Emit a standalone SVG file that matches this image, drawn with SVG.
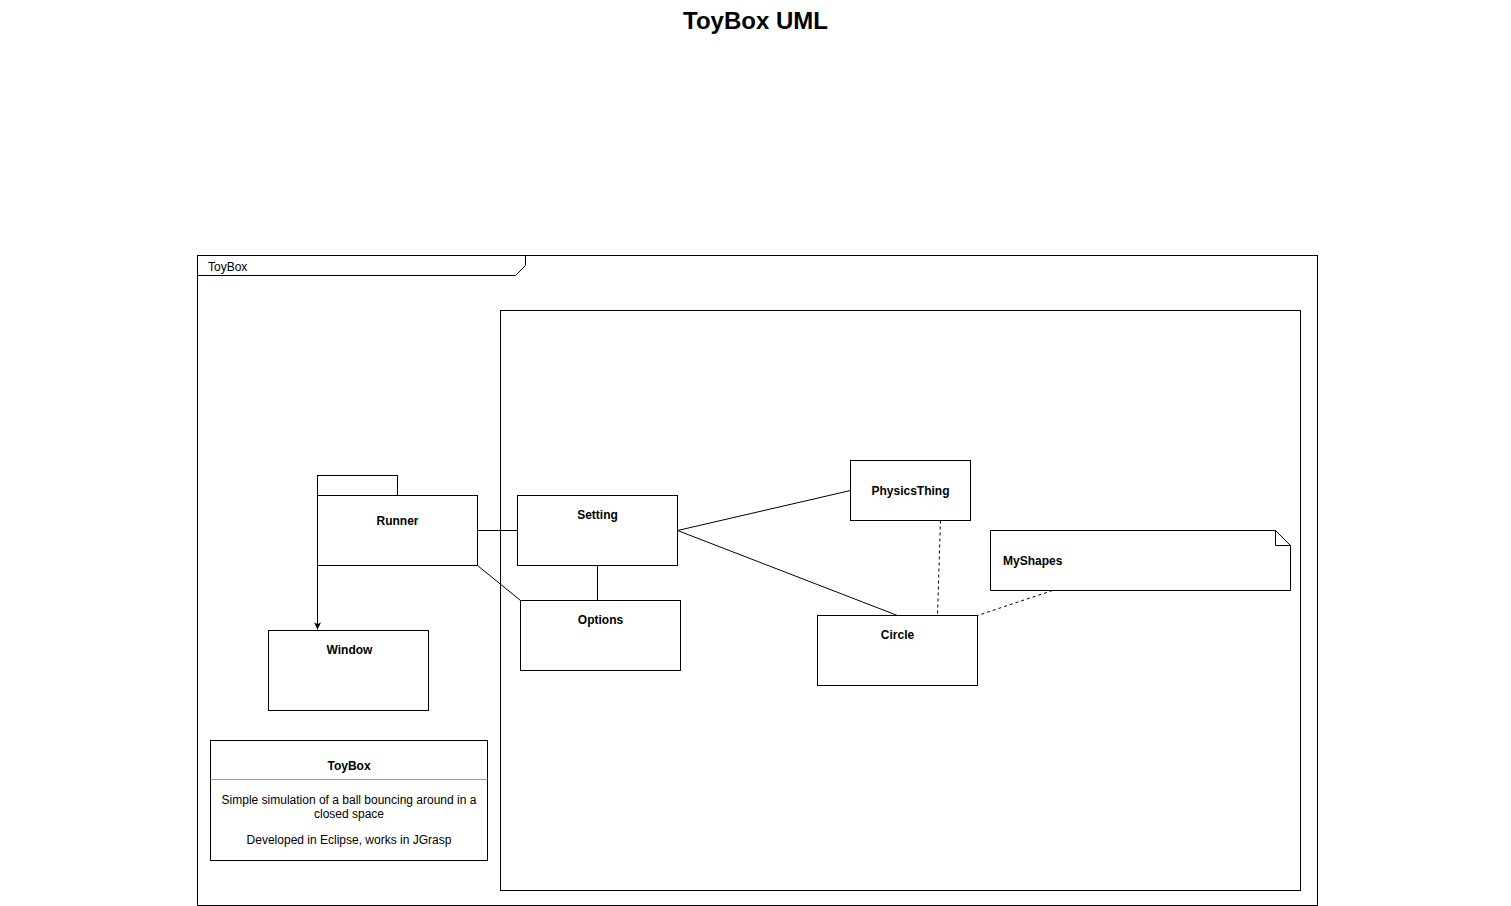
<svg xmlns="http://www.w3.org/2000/svg" width="1511" height="906" viewBox="0 0 1511 906">
<style>
.b{fill:#fff;stroke:#000;stroke-width:1}
.f{fill:none;stroke:#000;stroke-width:1}
.t{font-family:"Liberation Sans",Arial,sans-serif;font-size:12px;fill:#000}
.bt{font-family:"Liberation Sans",Arial,sans-serif;font-size:12px;font-weight:bold;fill:#000;text-anchor:middle}
.c{fill:none;stroke:#000;stroke-width:1}
.d{fill:none;stroke:#000;stroke-width:1;stroke-dasharray:3 3}
</style>
<defs>
<marker id="arr" markerWidth="10" markerHeight="10" refX="8" refY="4" orient="auto" markerUnits="userSpaceOnUse">
<path d="M1,0.5 L8,4 L1,7.5 L2.5,4 Z" fill="#000"/>
</marker>
</defs>
<rect width="1511" height="906" fill="#fff"/>
<text x="755.5" y="29" style="font-family:'Liberation Sans',Arial,sans-serif;font-size:24px;font-weight:bold;text-anchor:middle">ToyBox UML</text>
<g id="frame-toybox">
<rect x="197.5" y="255.5" width="1120" height="650" class="f"/>
<path d="M197.5,275.5 H515.5 L525.5,265.5 V255.5" class="f"/>
<text x="208" y="271" class="t">ToyBox</text>
</g>
<g id="frame-inner">
<rect x="500.5" y="310.5" width="800" height="580" class="f"/>
</g>
<g id="connectors">
<line x1="477.5" y1="530.5" x2="517.5" y2="530.5" class="c"/>
<line x1="477.5" y1="565.5" x2="520.5" y2="600.5" class="c"/>
<line x1="597.5" y1="565.5" x2="597.5" y2="600.5" class="c"/>
<line x1="317.5" y1="565.5" x2="317.5" y2="629.5" class="c" marker-end="url(#arr)"/>
<line x1="677.5" y1="530.5" x2="850.5" y2="490.5" class="c"/>
<line x1="677.5" y1="530.5" x2="897.5" y2="615.5" class="c"/>
<line x1="940.5" y1="520.5" x2="937.5" y2="615.5" class="d"/>
<line x1="1052.5" y1="590.5" x2="977.5" y2="615.5" class="d"/>
</g>
<g id="node-runner">
<rect x="317.5" y="475.5" width="80" height="20" class="b"/>
<rect x="317.5" y="495.5" width="160" height="70" class="b"/>
<text x="397.5" y="525" class="bt">Runner</text>
</g>
<g id="node-setting">
<rect x="517.5" y="495.5" width="160" height="70" class="b"/>
<text x="597.5" y="519" class="bt">Setting</text>
</g>
<g id="node-options">
<rect x="520.5" y="600.5" width="160" height="70" class="b"/>
<text x="600.5" y="624" class="bt">Options</text>
</g>
<g id="node-window">
<rect x="268.5" y="630.5" width="160" height="80" class="b"/>
<text x="349.5" y="654" class="bt">Window</text>
</g>
<g id="node-physicsthing">
<rect x="850.5" y="460.5" width="120" height="60" class="b"/>
<text x="910.5" y="495" class="bt">PhysicsThing</text>
</g>
<g id="node-circle">
<rect x="817.5" y="615.5" width="160" height="70" class="b"/>
<text x="897.5" y="639" class="bt">Circle</text>
</g>
<g id="node-myshapes">
<path d="M990.5,530.5 H1275.5 L1290.5,545.5 V590.5 H990.5 Z" class="b"/>
<path d="M1275.5,530.5 V545.5 H1290.5" class="f"/>
<text x="1003" y="565" class="bt" style="text-anchor:start">MyShapes</text>
</g>
<g id="node-legend">
<rect x="210.5" y="740.5" width="277" height="120" class="b"/>
<line x1="210.5" y1="779.5" x2="487.5" y2="779.5" stroke="#999" stroke-width="1"/>
<text x="349" y="770" class="bt">ToyBox</text>
<text x="349" y="804" class="t" text-anchor="middle">Simple simulation of a ball bouncing around in a</text>
<text x="349" y="818" class="t" text-anchor="middle">closed space</text>
<text x="349" y="844" class="t" text-anchor="middle">Developed in Eclipse, works in JGrasp</text>
</g>
</svg>
